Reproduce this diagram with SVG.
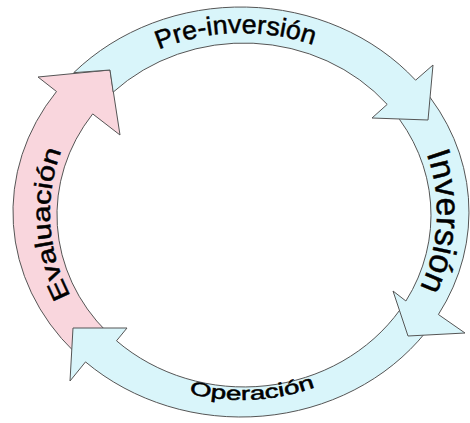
<svg xmlns="http://www.w3.org/2000/svg" width="470" height="423" viewBox="0 0 470 423">
<style>
.blue{fill:#d9f5fa;stroke:#555;stroke-width:1;stroke-linejoin:miter}
.pink{fill:#f9d6dd;stroke:#555;stroke-width:1;stroke-linejoin:miter}
.lbl{font-family:"Liberation Sans",Arial,sans-serif;fill:#000;stroke:#000;stroke-width:0.5;text-anchor:middle}
</style>
<defs>
<path id="tpPre" d="M 53.7 157.4 A 198 180 0 0 1 425.6 145.6"/>
<path id="tpInv" d="M 346.8 58.7 A 195 183 0 0 1 332 375.3"/>
<path id="tpEval" d="M 156 376.6 A 192 183 0 0 1 136.3 60.2"/>
<path id="tpOper" d="M 74.6 315.4 A 200 187 0 0 0 420.5 297.3"/>
</defs>
<rect width="470" height="423" fill="#fff"/>
<g id="evaluacion">
<path class="pink" d="M 74.2 351.8 A 228 205 0 0 1 56.5 91.5 L 38 77 L 110 70 L 120 135 L 92.7 113.9 A 187 172 0 0 0 107.2 332.3 Z"/>
<text class="lbl" font-size="25"><textPath href="#tpEval" startOffset="50%" textLength="150" lengthAdjust="spacingAndGlyphs">Evaluación</textPath></text>
</g>
<g id="operacion">
<path class="blue" d="M 425.5 332.5 A 228 205 0 0 1 85.5 361.9 L 70 381 L 73 328 L 127 328 L 116.5 340.8 A 187 172 0 0 0 399.9 309.9 Z"/>
<text class="lbl" font-size="19"><textPath href="#tpOper" startOffset="50%" textLength="128" lengthAdjust="spacingAndGlyphs">Operación</textPath></text>
</g>
<g id="inversion">
<path class="blue" d="M 420.7 85.8 A 228 205 0 0 1 438.4 314.5 L 465 333 L 408 336 L 393 291 L 405.9 301 A 187 172 0 0 0 391.4 109.1 Z"/>
<text class="lbl" font-size="33"><textPath href="#tpInv" startOffset="50%" textLength="138" lengthAdjust="spacingAndGlyphs">Inversión</textPath></text>
</g>
<g id="preinversion">
<path class="blue" d="M 73.7 72.7 A 228 205 0 0 1 415.6 80.2 L 433 65 L 428 120 L 372 118 L 387.2 104.4 A 187 172 0 0 0 113.2 92.1 L 110 70 Z"/>
<text class="lbl" font-size="26"><textPath href="#tpPre" startOffset="50%" textLength="158" lengthAdjust="spacingAndGlyphs">Pre-inversión</textPath></text>
</g>
<g id="connectors"/>
</svg>
